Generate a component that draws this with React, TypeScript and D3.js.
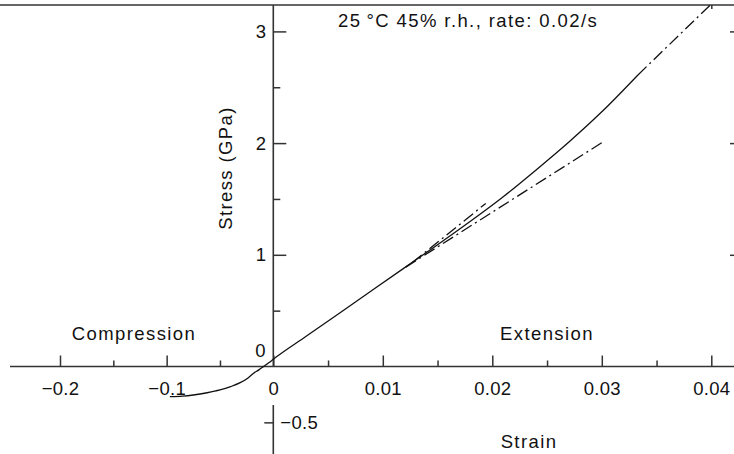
import React, { useEffect, useRef } from "react";
import * as d3 from "d3";

// stress-strain curve
const curveStrain = [
  -0.097, -0.085, -0.075, -0.062, -0.05, -0.04, -0.031, -0.024, -0.0185, -0.0135,
  -0.0091, -0.004, 0, 0.003, 0.006, 0.009, 0.012, 0.015, 0.018, 0.021, 0.024,
  0.027, 0.03, 0.0333,
];
const curveStress = [
  -0.27, -0.265, -0.255, -0.235, -0.21, -0.18, -0.145, -0.105, -0.06, -0.03,
  0, 0.035, 0.065, 0.27, 0.475, 0.68, 0.885, 1.09, 1.3, 1.52, 1.76, 2.01, 2.28, 2.61,
];
// dash-dot lines
const extStrain = [0.0333, 0.0399];
const extStress = [2.61, 3.236];
const lowStrain = [0.0121, 0.0301];
const lowStress = [0.89, 2.01];
const upStrain = [0.0127, 0.0194];
const upStress = [0.93, 1.46];

const xMajor = [-0.2, -0.1, 0, 0.01, 0.02, 0.03, 0.04];
const xMinor = [-0.15, -0.05, 0.005, 0.015, 0.025, 0.035];
const yMajor = [1, 2, 3];
const yMinor = [0.5, 1.5, 2.5];
const yBelow = [-0.5];
const topTicks = [0.04];

const FONT = "'Liberation Sans', Arial, Helvetica, sans-serif";
const W = 734;
const H = 454;

const App = () => {
  const ref = useRef<SVGSVGElement>(null);

  useEffect(() => {
    const svg = d3.select(ref.current);
    svg.selectAll("*").remove();

    // compression side is squeezed 10x relative to extension
    const x = d3.scaleLinear().domain([-0.2, 0, 0.04]).range([60, 273.3, 711.3]);
    const y = d3.scaleLinear().domain([0, 3]).range([366.5, 31.4]);
    const ink = "#333";

    const styleAxis = (g) => {
      g.select(".domain").remove();
      g.selectAll("line").attr("stroke", ink).attr("stroke-width", 1.5);
      g.selectAll("text")
        .attr("font-family", FONT)
        .attr("font-size", 18.5)
        .attr("fill", "#111")
        .attr("letter-spacing", 0.3);
    };

    // frame top
    svg.append("line").attr("x1", 0).attr("x2", W).attr("y1", 5).attr("y2", 5)
      .attr("stroke", ink).attr("stroke-width", 1.6);

    // x axis
    svg.append("line").attr("x1", 10).attr("x2", W).attr("y1", y(0)).attr("y2", y(0))
      .attr("stroke", ink).attr("stroke-width", 1.6);
    svg.append("g").attr("transform", `translate(0,${y(0)})`)
      .call(d3.axisBottom(x).tickValues(xMajor).tickSizeInner(-11).tickSizeOuter(0)
        .tickPadding(15).tickFormat(d3.format("~g")))
      .call(styleAxis);
    svg.append("g").attr("transform", `translate(0,${y(0)})`)
      .call(d3.axisBottom(x).tickValues(xMinor).tickSizeInner(-6).tickSizeOuter(0).tickFormat(() => ""))
      .call(styleAxis);

    // y axis (broken under the x axis)
    svg.append("line").attr("x1", x(0)).attr("x2", x(0)).attr("y1", 5).attr("y2", y(0))
      .attr("stroke", ink).attr("stroke-width", 1.6);
    svg.append("line").attr("x1", x(0)).attr("x2", x(0)).attr("y1", 405).attr("y2", H)
      .attr("stroke", ink).attr("stroke-width", 1.6);
    svg.append("g").attr("transform", `translate(${x(0)},0)`)
      .call(d3.axisLeft(y).tickValues(yMajor).tickSizeInner(-13).tickSizeOuter(0)
        .tickPadding(7).tickFormat(d3.format("~g")))
      .call(styleAxis);
    svg.append("g").attr("transform", `translate(${x(0)},0)`)
      .call(d3.axisLeft(y).tickValues(yMinor).tickSizeInner(-7).tickSizeOuter(0).tickFormat(() => ""))
      .call(styleAxis);
    svg.append("g").attr("transform", `translate(${x(0)},0)`)
      .call(d3.axisRight(y).tickValues(yBelow).tickSizeInner(-9).tickSizeOuter(0)
        .tickPadding(7).tickFormat(d3.format("~g")))
      .call(styleAxis);
    svg.append("text").attr("x", 265.5).attr("y", 357).attr("text-anchor", "end")
      .attr("font-family", FONT).attr("font-size", 18.5).attr("fill", "#111").text("0");

    // small ticks on the right and top edges
    svg.append("g").attr("transform", `translate(${W},0)`)
      .call(d3.axisLeft(y).tickValues(yMajor).tickSizeInner(4).tickSizeOuter(0).tickFormat(() => ""))
      .call(styleAxis);
    svg.append("g").attr("transform", `translate(0,5)`)
      .call(d3.axisTop(x).tickValues(topTicks).tickSizeInner(-4).tickSizeOuter(0).tickFormat(() => ""))
      .call(styleAxis);

    // curves
    const line = d3.line<number[]>().x((d) => x(d[0])).y((d) => y(d[1]));
    const pts = (a: number[], b: number[]) => a.map((v, i) => [v, b[i]]);

    svg.append("path")
      .attr("d", line.curve(d3.curveMonotoneX)(pts(curveStrain, curveStress)))
      .attr("fill", "none").attr("stroke", "#111").attr("stroke-width", 1.3);

    [
      pts(extStrain, extStress),
      pts(lowStrain, lowStress),
      pts(upStrain, upStress),
    ].forEach((p) => {
      svg.append("path")
        .attr("d", d3.line<number[]>().x((d) => x(d[0])).y((d) => y(d[1]))(p))
        .attr("fill", "none").attr("stroke", "#111").attr("stroke-width", 1.3)
        .attr("stroke-dasharray", "12,4,2,4");
    });

    // labels
    const label = (tx, ty, s, anchor = "middle") =>
      svg.append("text").attr("x", tx).attr("y", ty).attr("text-anchor", anchor)
        .attr("font-family", FONT).attr("font-size", 18.5).attr("fill", "#111")
        .attr("letter-spacing", 1.4).text(s);

    label(338, 27, "25\u2009°C 45% r.h., rate: 0.02/s", "start");
    label(134, 340, "Compression");
    label(547, 340, "Extension");
    label(529, 448, "Strain");
    label(0, 0, "Stress (GPa)").attr("transform", "translate(232,168) rotate(-90)");
  }, []);

  return (
    <svg
      ref={ref}
      width={W}
      height={H}
      style={{ position: "absolute", left: 0, top: 0, background: "#fff" }}
    />
  );
};

export default App;
